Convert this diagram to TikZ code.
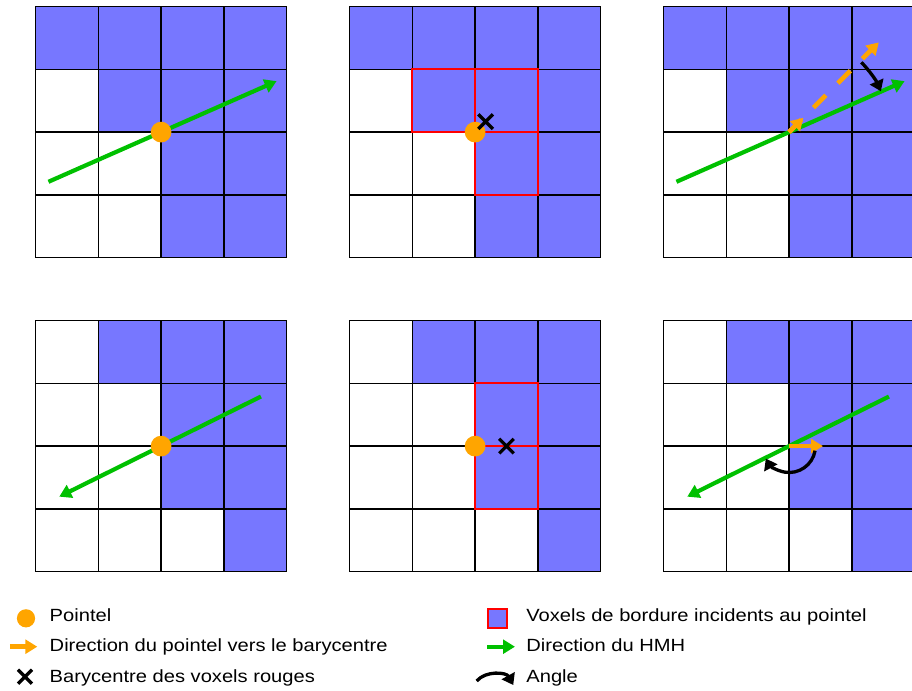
\documentclass[tikz,border=0pt]{standalone}
\usepackage{fontspec}
\setmainfont{Liberation Sans}[FakeStretch=1.14]
\usepackage{xcolor}
\usetikzlibrary{arrows.meta, positioning, calc, shapes.misc}

\definecolor{voxblue}{RGB}{119,119,255}
\definecolor{pntorange}{RGB}{255,165,0}
\definecolor{hmhgreen}{RGB}{0,192,0}

\begin{document}
\begin{tikzpicture}[
    vox/.style={fill=voxblue},
    gridline/.style={line width=0.7pt},
    redbox/.style={draw=red, line width=1pt},
    pnt/.style={circle, fill=pntorange, inner sep=0pt, minimum size=0.33cm},
    bc/.style={cross out, draw=black, line width=1.5pt, inner sep=0pt, minimum size=0.18cm},
    hmh/.style={-{Triangle[length=1.9mm, width=2.2mm]}, hmhgreen, line width=1.9pt},
    bary/.style={-{Triangle[length=1.9mm, width=2.2mm]}, pntorange, line width=2.1pt},
    barydash/.style={bary, dash pattern=on 0.28cm off 0.27cm},
    ang/.style={-{Triangle[length=1.7mm, width=2.3mm]}, line width=1.5pt},
    leg/.style={anchor=base west, inner sep=0pt, font=\fontsize{8}{10}\selectfont}
]
\useasboundingbox (-0.565,0.1035) rectangle (13.957,-10.884);

%% --- Top row grids ---
\foreach \gx in {0,5,10} {
  \foreach \c/\r in {0/0,1/0,2/0,3/0,1/1,2/1,3/1,2/2,3/2,2/3,3/3}
    \fill[vox] (\gx+\c,-\r) rectangle ++(1,-1);
  \draw[gridline] (\gx,0) grid (\gx+4,-4);
}

%% --- Bottom row grids ---
\foreach \gx in {0,5,10} {
  \foreach \c/\r in {1/0,2/0,3/0,2/1,3/1,2/2,3/2,3/3}
    \fill[vox] (\gx+\c,-5-\r) rectangle ++(1,-1);
  \draw[gridline] (\gx,-5) grid (\gx+4,-9);
}

%% --- Pointels ---
\coordinate (p1) at (2,-2);
\coordinate (p2) at (7,-2);
\coordinate (p3) at (12,-2);
\coordinate (p4) at (2,-7);
\coordinate (p5) at (7,-7);
\coordinate (p6) at (12,-7);

%% --- Grid 1 ---
\coordinate (h1a) at ($(p1)+(203.8:1.96)$);
\coordinate (h1b) at ($(p1)+(23.8:2.01)$);
\draw[hmh] (h1a) -- (h1b);
\node[pnt] (pt1) at (p1) {};

%% --- Grid 2 ---
\draw[redbox] (6,-1) rectangle (7,-2);
\draw[redbox] (7,-1) rectangle (8,-2);
\draw[redbox] (7,-2) rectangle (8,-3);
\node[pnt] (pt2) at (p2) {};
\node[bc] (bc2) at (7.167,-1.833) {};

%% --- Grid 3 ---
\coordinate (h3a) at ($(p3)+(203.8:1.96)$);
\coordinate (h3b) at ($(p3)+(23.8:2.01)$);
\coordinate (o3) at ($(p3)+(45:0.32)$);
\coordinate (o3d) at ($(p3)+(45:2.02)$);
\draw[hmh] (h3a) -- (h3b);
\draw[barydash] (p3) -- (o3d);
\draw[bary] (p3) -- (o3);
\draw[ang] ($(p3)+(44:1.6)$) arc[start angle=44, end angle=24, radius=1.6];

%% --- Grid 4 ---
\coordinate (h4a) at ($(p4)+(26.4:1.775)$);
\coordinate (h4b) at ($(p4)+(206.4:1.81)$);
\draw[hmh] (h4a) -- (h4b);
\node[pnt] (pt4) at (p4) {};

%% --- Grid 5 ---
\draw[redbox] (7,-6) rectangle (8,-7);
\draw[redbox] (7,-7) rectangle (8,-8);
\node[pnt] (pt5) at (p5) {};
\node[bc] (bc5) at (7.5,-7) {};

%% --- Grid 6 ---
\coordinate (h6a) at ($(p6)+(26.4:1.775)$);
\coordinate (h6b) at ($(p6)+(206.4:1.81)$);
\coordinate (o6) at ($(p6)+(0.54,0)$);
\draw[hmh] (h6a) -- (h6b);
\draw[bary] (p6) -- (o6);
\draw[ang] ($(p6)+(-10:0.42)$) arc[start angle=-10, end angle=-152, radius=0.42];

%% --- Legend, left ---
\node[pnt, minimum size=0.29cm] (lpnt) at (-0.151,-9.742) {};
\node[leg] (lpnttxt) at (0.22,-9.785) {Pointel};
\coordinate (lbarya) at (-0.406,-10.194);
\coordinate (lbaryb) at (0.029,-10.194);
\draw[bary] (lbarya) -- (lbaryb);
\node[leg] (lbarytxt) at (0.22,-10.274) {Direction du pointel vers le barycentre};
\node[bc, minimum size=0.17cm] (lbc) at (-0.167,-10.672) {};
\node[leg] (lbctxt) at (0.22,-10.761) {Barycentre des voxels rouges};

%% --- Legend, right ---
\node[vox, redbox, rectangle, minimum size=0.3cm, inner sep=0pt] (lvox) at (7.354,-9.742) {};
\node[leg] (lvoxtxt) at (7.81,-9.785) {Voxels de bordure incidents au pointel};
\coordinate (lhmha) at (7.194,-10.194);
\coordinate (lhmhb) at (7.635,-10.194);
\draw[hmh] (lhmha) -- (lhmhb);
\node[leg] (lhmhtxt) at (7.81,-10.274) {Direction du HMH};
\coordinate (langa) at (7.025,-10.74);
\coordinate (langb) at (7.608,-10.804);
\draw[ang] (langa) to[bend left=55] (langb);
\node[leg] (langtxt) at (7.81,-10.761) {Angle};

\end{tikzpicture}
\end{document}
